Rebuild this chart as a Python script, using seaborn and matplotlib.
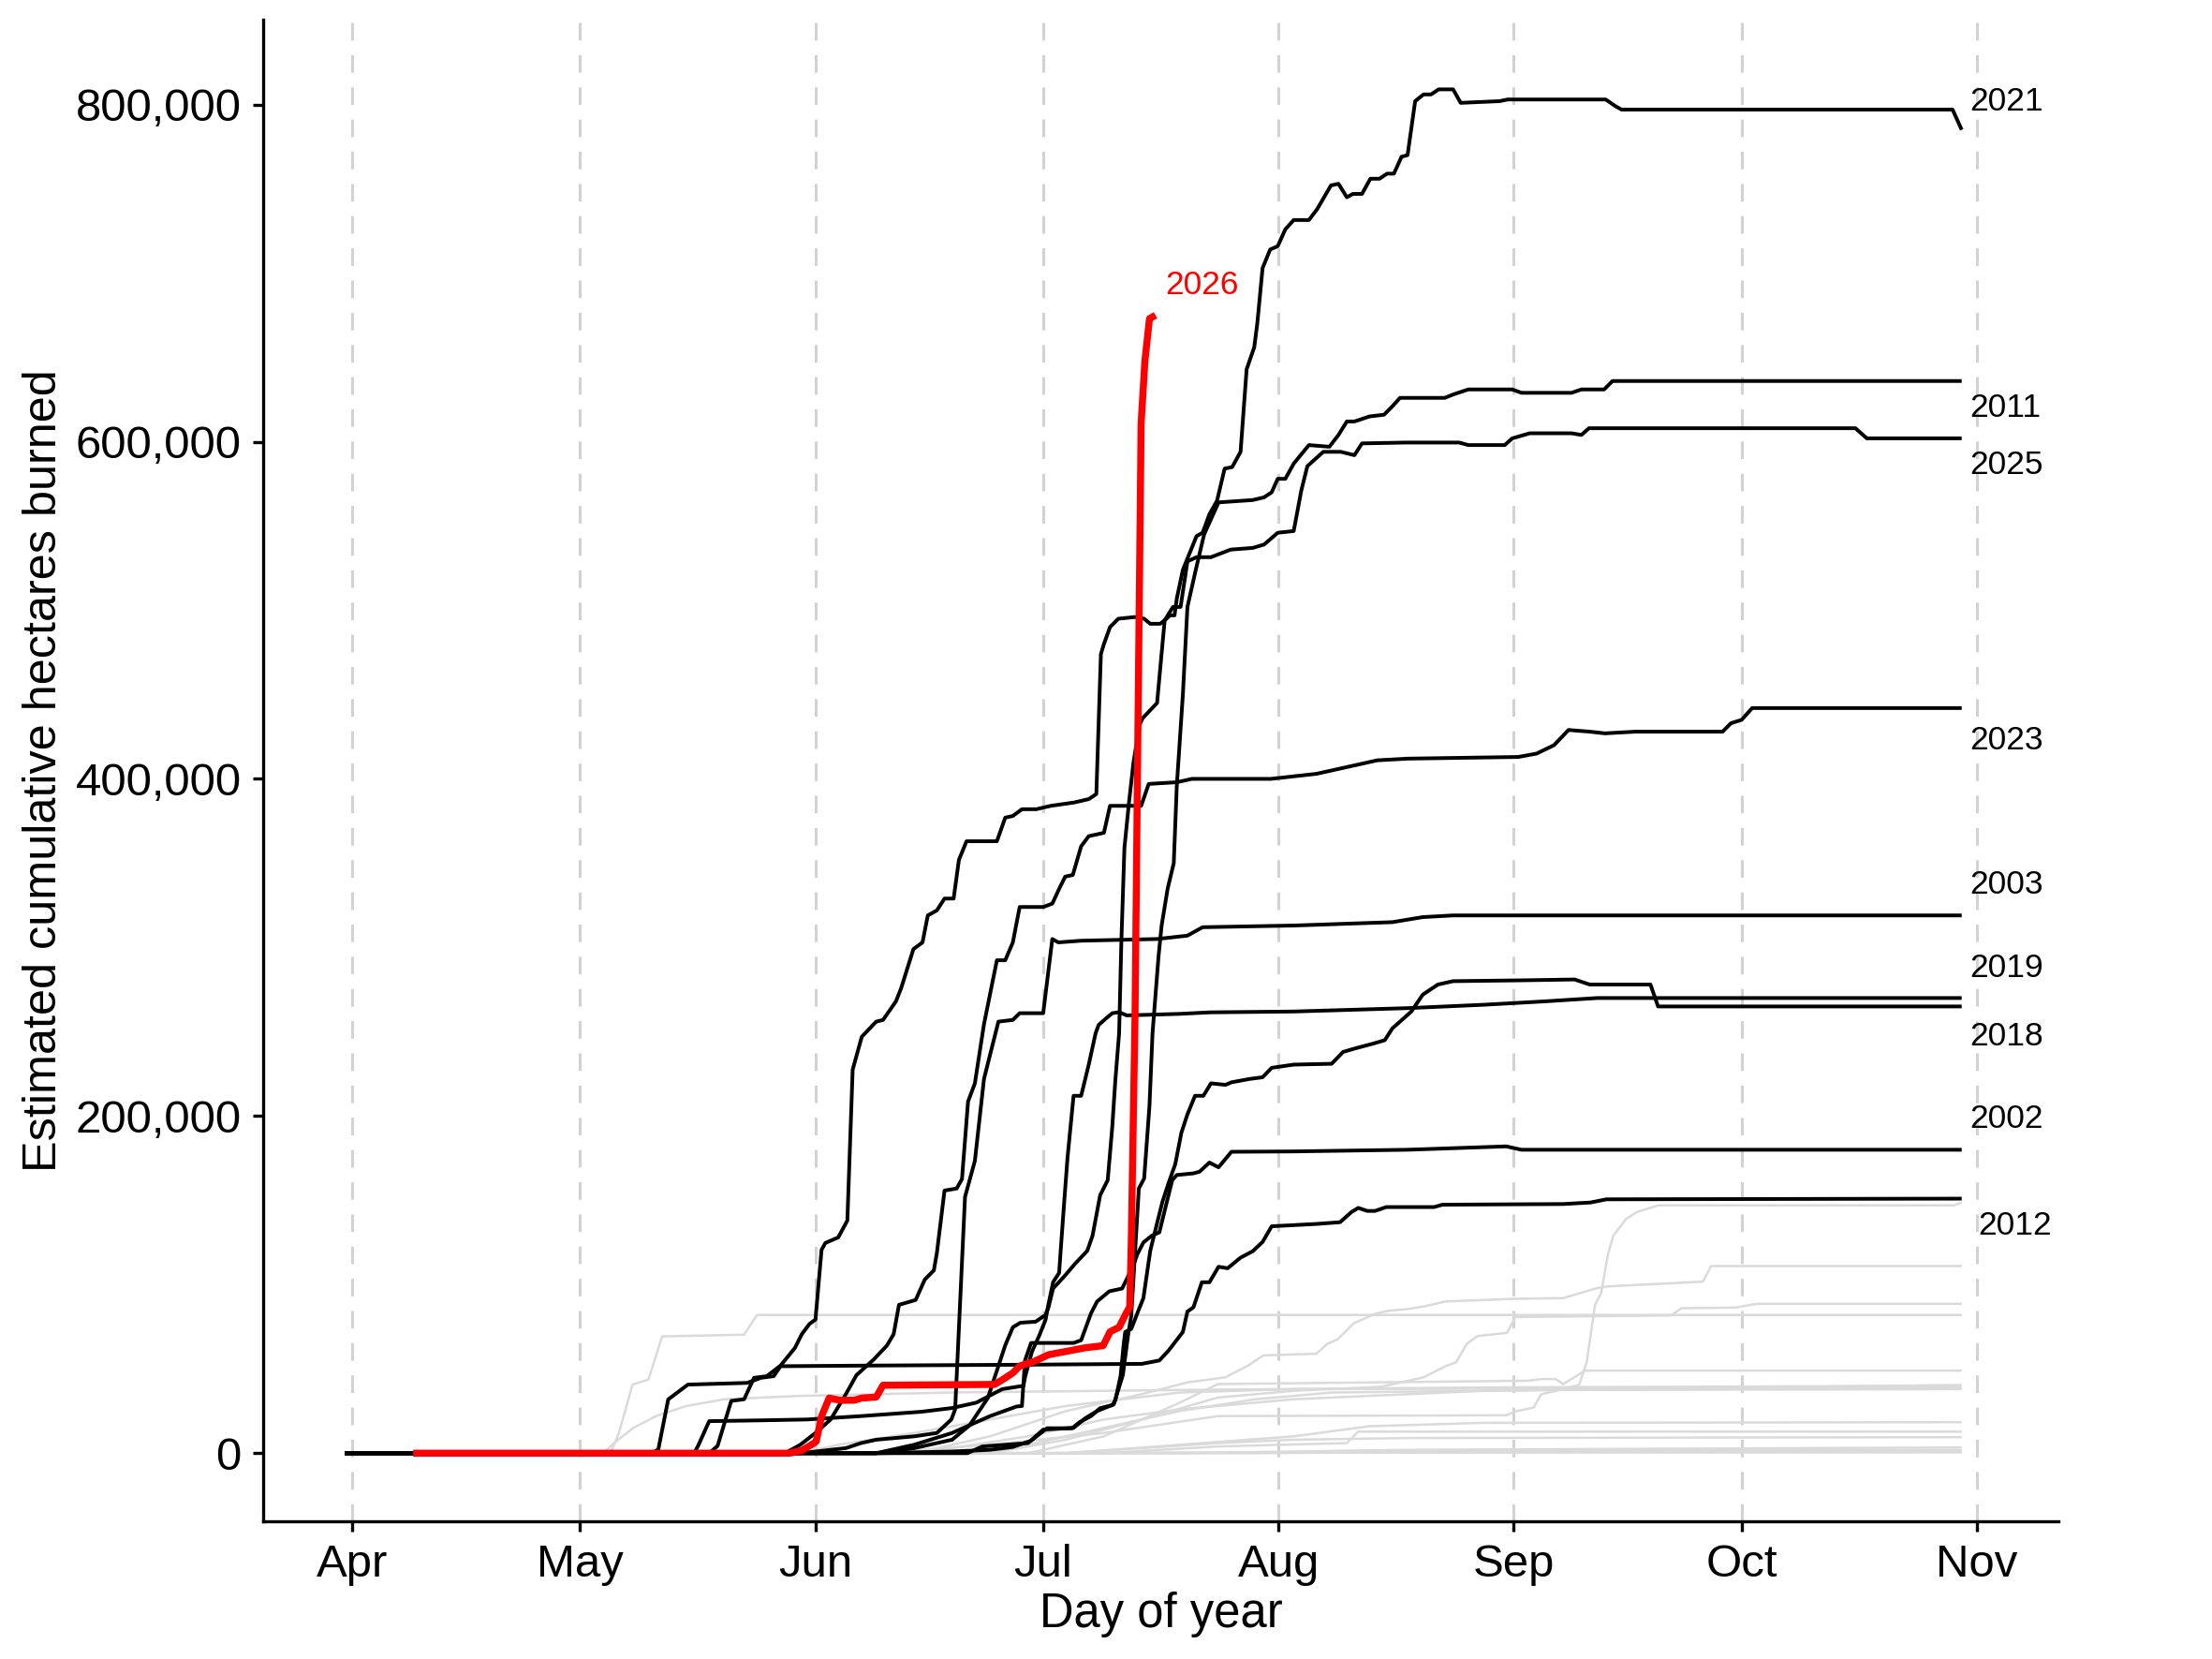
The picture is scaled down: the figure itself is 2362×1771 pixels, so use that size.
import numpy as np
import pandas as pd
import matplotlib
matplotlib.use("Agg")
import matplotlib.pyplot as plt
from matplotlib.ticker import FuncFormatter
import seaborn as sns

# ---------------- data (day of year, thousand hectares) ----------------
month_days = [91, 121, 152, 182, 213, 244, 274, 305]
month_labels = ["Apr", "May", "Jun", "Jul", "Aug", "Sep", "Oct", "Nov"]
y_ticks = [0, 200000, 400000, 600000, 800000]

day_2026 = [99, 148.6, 150.2, 151.7, 152.1, 152.8, 153.8, 155.2, 157.1, 158.1, 160, 160.9, 175.6, 176.6, 178,
            178.9, 180.8, 182.7, 187.5, 189.9, 190.8, 192, 192.9, 193.4, 193.6, 194.1, 194.4, 194.9, 195.4, 196, 196.8]
val_2026 = [0, 0, 1.6, 5.7, 7, 21.9, 32.7, 31.4, 31.4, 32.7, 33.3, 40.3, 40.8, 43.5, 47.6,
            51.7, 54.4, 58.4, 62.5, 63.8, 72, 74.7, 82.8, 86.8, 124.7, 260, 395, 611, 648, 673, 675]

day_2021 = [90, 160, 165, 170, 172.3, 174.7, 176.1, 177, 178, 179, 181, 182.3, 182.7, 183.3, 184.8, 186.2, 187.8,
            188.5, 189.5, 190.5, 191.1, 191.5, 192, 192.3, 192.7, 193.3, 193.9, 194.7, 195.1, 197, 198, 198.7,
            199.3, 199.6, 200.4, 202.2, 203, 203.9, 204.9, 205.9, 206.9, 208, 208.8, 209.8, 210.2, 210.9, 211.9,
            212.9, 213.9, 215, 217, 218.1, 219.9, 220.9, 222, 222.8, 224, 225.1, 226.3, 227.3, 228.2, 229.2, 230,
            231, 232.1, 233.1, 234.1, 236, 237, 242.1, 243.2, 256.1, 257.4, 258.2, 301.8, 303]
val_2021 = [0, 0, 3, 8, 16.5, 32.7, 51.7, 64, 74.7, 77.4, 78, 82, 86.6, 97.7, 105, 112.4, 120,
            129, 153, 162, 193.6, 221, 249, 304, 359, 386, 410, 432, 436, 445, 494, 497,
            497, 507, 524, 544, 546, 557, 565, 584, 585, 594, 643, 656, 670, 703, 714,
            716, 726, 731.5, 731.5, 738, 752, 753, 745, 747, 747, 756, 756, 759, 759, 769, 770,
            802, 806, 806, 809, 809, 801, 802, 803, 803, 799, 797, 797, 785]

day_2011 = [90, 172, 174, 180, 182, 186, 187.5, 189.1, 191.3, 192.5, 193.2, 193.6, 194.6, 195.3, 196, 196.4,
            197.2, 197.6, 198.4, 199.2, 199.6, 200.4, 201, 202.1, 203.2, 205.1, 209.6, 211.1, 212.1, 212.9,
            213.9, 215, 217, 219.7, 220.9, 222, 223, 225, 226.9, 228, 229, 234.9, 236, 238, 243.8, 245,
            251.6, 252.9, 255.9, 257, 303]
val_2011 = [0, 0, 4, 6, 14, 15, 20.6, 25, 29, 46.5, 70.6, 81.5, 157, 163, 206, 249,
            295, 313, 335, 350, 396, 450, 502, 524, 545, 564, 565.4, 567, 570, 578,
            578, 587, 598, 597, 604, 612, 612, 615, 616, 621, 626, 626, 628, 631, 631, 629,
            629, 631, 631, 636, 636]

day_2025 = [90, 138, 139.1, 140.9, 142.6, 143.9, 145.6, 147.4, 149.3, 150.2, 151.2, 152, 152.8, 153.3, 155,
            156.2, 156.9, 158.1, 160, 160.9, 162.6, 163.3, 164.9, 166.1, 166.8, 168, 169, 170.2, 170.9, 171.9,
            175.9, 177, 178, 179.2, 181.1, 183, 186.1, 188, 189, 189.6, 190, 190.8, 191.9, 194.1, 195.3, 196.1,
            197.4, 198, 199.1, 200.1, 201, 202.2, 204.1, 206.7, 209.6, 211.1, 212.9, 215, 216, 216.8, 218.9,
            221.2, 223, 224, 229.8, 236.8, 238, 242.8, 243.8, 246.1, 251.6, 252.9, 253.9, 289, 290.5, 303]
val_2025 = [0, 0, 4.3, 31, 32, 44.7, 45.7, 52, 62.5, 70.6, 76.6, 79.3, 120.6, 124.7, 128,
            138, 227.5, 247, 256, 257, 268, 276, 299, 303, 319, 322, 329, 329, 352, 363,
            363, 377, 378, 382, 382, 384, 386, 388, 391, 474, 480, 490, 495, 496, 495, 492,
            492, 494, 502, 502, 529, 531.5, 531.5, 536, 537, 539, 546, 547, 571, 585.5, 594,
            594, 592, 599, 599.5, 599.5, 598, 598, 602, 605, 605, 604, 608, 608, 602, 602]

day_2023 = [90, 148, 150, 152, 154, 156, 157.4, 159.7, 161.4, 162.3, 163, 165.2, 166.4, 167.6, 168, 169,
            170.6, 171.3, 172.1, 173, 174.2, 175.9, 177, 178, 178.9, 182, 183.2, 184.2, 184.9, 185.9, 187,
            188, 190, 190.8, 194.9, 195.9, 199.6, 201.6, 212, 218, 223, 226, 230, 244.6, 247, 249.3, 251.2,
            254, 256, 260, 271.5, 272.6, 274, 275.4, 303]
val_2023 = [0, 0, 5, 12, 20, 35, 46.3, 55.7, 63.8, 70.6, 88, 90.9, 103, 108.5, 119, 155.8,
            157, 162.6, 208.6, 219.4, 254.5, 292.4, 292.4, 303, 324, 324, 326, 335.7, 342, 343, 360,
            366, 368, 384, 384, 397, 398, 400, 400, 403, 408, 411, 412, 413, 415, 420, 429,
            428, 427, 428, 428, 433, 435, 442, 442]

day_2003 = [90, 150, 156, 158, 160, 165, 168, 169.9, 170.4, 171.7, 173, 174.2, 176.1, 178, 178.9, 182,
            183.2, 184, 187, 197, 201, 203, 215, 228, 232, 236, 303]
val_2003 = [0, 0, 3, 6, 8, 10, 12, 20, 26, 152, 173.4, 222, 256, 257, 261, 261,
            305, 303, 304, 305, 307, 312, 313, 315, 318, 319, 319]

day_2019 = [90, 136, 136.5, 138, 145, 150.9, 158, 166, 170, 173.2, 176.6, 179.4, 179.6, 180.5, 181.5, 182.3,
            182.7, 183.3, 184.1, 184.3, 184.8, 185.2, 185.6, 186, 187, 188, 188.9, 189.3, 190.3, 191.1, 192,
            193, 200, 204, 215, 230, 240, 248, 255, 303]
val_2019 = [0, 0, 4, 19, 19.5, 20, 22, 24.6, 26.8, 30, 38, 40, 45, 60, 70, 79,
            88.5, 101.4, 107, 120, 151, 175, 193.6, 212, 212, 230.5, 249, 254, 258, 261, 261.6,
            259.7, 260.6, 261.5, 262, 264, 266, 268, 270, 270]

day_2018 = [90, 160, 170, 175, 178, 180.4, 181.7, 182.5, 185.8, 186.8, 188.3, 189.5, 191.1, 191.5, 192.2,
            192.6, 192.8, 193.6, 194.4, 195.2, 196.1, 196.9, 197.7, 198.5, 199.4, 200.2, 201, 202, 203.1,
            204.1, 206, 206.8, 209.2, 210.9, 212.1, 215, 220, 221.5, 223, 225.5, 227, 228, 229.5, 230.5,
            232, 234, 236, 245, 252, 254, 262, 263, 303]
val_2018 = [0, 0, 1, 2, 3.7, 7.4, 12, 14.8, 14.8, 18.4, 22, 26.7, 28.5, 31.3, 46,
            64.5, 71.9, 73.7, 83, 92, 120, 134.6, 149, 160, 171.5, 190, 201, 212, 212,
            219.4, 218.5, 220, 222, 223, 228.6, 230.5, 231, 238, 240, 243, 245, 252, 258, 262,
            272, 278, 280, 280.5, 281, 278, 278, 265, 265]

day_2002 = [90, 160, 165, 170, 175, 178.5, 179.2, 179.6, 180.4, 186, 187, 188.3, 189.1, 190.7, 192.4, 193.8,
            194.4, 195.2, 196.3, 197.3, 198.1, 199, 199.6, 201.8, 202.6, 203.9, 205.1, 206.8, 215, 230, 243,
            245, 303]
val_2002 = [0, 0, 5, 12, 22, 27.7, 28, 55, 65.4, 65.4, 67, 83, 90, 96, 97.7, 110.6,
            118, 125, 129, 131, 145.6, 162, 165, 166, 167, 172.4, 169.6, 178.8, 179, 180, 182,
            180, 180]

day_2012 = [90, 130.5, 131.3, 132.6, 135.2, 143, 144.8, 146.5, 147.4, 160, 180, 195, 197.3, 198.5, 200.4,
            201, 201.8, 202.9, 203.9, 205.1, 206.3, 208, 209.6, 210.9, 212.1, 218, 221.1, 222.6, 223.5, 224.7,
            225.7, 227.2, 233.5, 234.6, 250.5, 254.1, 256.2, 303]
val_2012 = [0, 0, 2.3, 31.9, 40.7, 41.7, 44.7, 45.7, 51.6, 52, 52.5, 53, 55, 60.8, 71.9,
            84, 86.6, 101.4, 101.4, 110.6, 109.7, 116, 119.8, 125.3, 134.6, 136, 137, 143, 145.5, 143.7,
            143.7, 146, 146, 147.4, 147.8, 148.7, 150.6, 151]

# other years (background, grey)
day_bg01 = [90, 125, 126.1, 127.9, 130, 131.8, 142.6, 144.3, 303]
val_bg01 = [0, 0, 12, 40.7, 43.7, 69.3, 70.3, 82, 82]
day_bg02 = [90, 124, 126, 128, 131, 135, 140, 150, 170, 200, 240, 303]
val_bg02 = [0, 0, 8, 15, 22, 28, 32, 34, 36, 37.5, 39, 40]
day_bg03 = [90, 150, 155, 165, 175, 185, 200, 215, 303]
val_bg03 = [0, 0, 5, 12, 20, 28, 36, 38, 39]
day_bg04 = [90, 170, 180, 190, 200, 210, 220, 250, 303]
val_bg04 = [0, 0, 5, 15, 25, 32, 36, 37.5, 38]
day_bg05 = [90, 160, 175, 190, 205, 243, 244.4, 246.6, 247.6, 250.5, 252.6, 253.6, 254.7, 255.5, 256.4,
            257.1, 258.8, 260.2, 263, 302, 303]
val_bg05 = [0, 0, 5, 12, 22, 22.5, 25, 27, 35, 38, 40.5, 54, 88, 95, 118,
            129, 139, 143, 147, 147, 148.7]
day_bg06 = [90, 165, 175, 185, 195, 201, 206, 209, 211, 218, 219.4, 220.8, 222.9, 225.7, 227.5, 230, 232.1,
            235, 244.2, 250.5, 254.8, 256.5, 263.3, 268.9, 270, 303]
val_bg06 = [0, 0, 10, 25, 35, 42, 45, 52, 58, 59, 64.8, 67.6, 77, 82.6, 84.5, 85.5, 87,
            90, 91.6, 92, 97.7, 99, 100.5, 101.8, 111, 111]
day_bg07 = [90, 175, 185, 195, 205, 215, 226.5, 232.1, 235, 236.4, 237.8, 239.2, 243.1, 244.2, 264.7, 266.1,
            273.2, 276, 303]
val_bg07 = [0, 0, 8, 20, 33, 37, 39.4, 45, 51.6, 54, 64.8, 69.5, 71.4, 80.8, 81.7, 86,
            86.4, 88.6, 88.6]
day_bg08 = [90, 180, 190, 200, 205, 245.9, 247.7, 249.5, 250.5, 253.4, 303]
val_bg08 = [0, 0, 10, 30, 41, 43, 44, 44, 41, 49, 49]
day_bg09 = [90, 185, 200, 215, 225, 240, 303]
val_bg09 = [0, 0, 5, 10, 16, 18, 18.4]
day_bg10 = [90, 190, 205, 222, 223.5, 303]
val_bg10 = [0, 0, 4, 6, 12.8, 12.8]
day_bg11 = [90, 200, 230, 303]
val_bg11 = [0, 0, 2, 3.4]
day_bg12 = [90, 210, 250, 303]
val_bg12 = [0, 0, 1.5, 1.9]
day_bg13 = [90, 303]
val_bg13 = [0, 0.5]
day_bg14 = [90, 180, 250, 303]
val_bg14 = [0, 0, 1, 1]
day_bg15 = [90, 185, 195, 205, 215, 230, 303]
val_bg15 = [0, 0, 3, 6, 8, 9, 9.5]
day_bg16 = [90, 160, 170, 180, 190, 200, 215, 240, 303]
val_bg16 = [0, 0, 3, 10, 20, 26, 32, 37, 40.5]

highlight = {
    "2021": (day_2021, val_2021), "2011": (day_2011, val_2011), "2025": (day_2025, val_2025),
    "2023": (day_2023, val_2023), "2003": (day_2003, val_2003), "2019": (day_2019, val_2019),
    "2018": (day_2018, val_2018), "2002": (day_2002, val_2002), "2012": (day_2012, val_2012),
}
background = {
    "bg01": (day_bg01, val_bg01), "bg02": (day_bg02, val_bg02), "bg03": (day_bg03, val_bg03),
    "bg04": (day_bg04, val_bg04), "bg05": (day_bg05, val_bg05), "bg06": (day_bg06, val_bg06),
    "bg07": (day_bg07, val_bg07), "bg08": (day_bg08, val_bg08), "bg09": (day_bg09, val_bg09),
    "bg10": (day_bg10, val_bg10), "bg11": (day_bg11, val_bg11), "bg12": (day_bg12, val_bg12),
    "bg13": (day_bg13, val_bg13), "bg14": (day_bg14, val_bg14), "bg15": (day_bg15, val_bg15),
    "bg16": (day_bg16, val_bg16),
}
current = {"2026": (day_2026, val_2026)}

# label positions (day, hectares) for year labels
label_years = ["2021", "2011", "2025", "2023", "2003", "2019", "2018", "2002", "2012"]
label_day = [304.1, 304.1, 304.1, 304.1, 304.1, 304.1, 304.1, 304.1, 305.1]
label_val = [802000, 620000, 586000, 422600, 337000, 288000, 247000, 198000, 134700]


def to_long(d):
    rows = []
    for name, (days, vals) in d.items():
        for i, (x, v) in enumerate(zip(days, vals)):
            rows.append({"series": name, "order": i, "day": x, "ha": v * 1000.0})
    return pd.DataFrame(rows)


df_bg = to_long(background)
df_hi = to_long(highlight)
df_cur = to_long(current)

# ---------------- style ----------------
sns.set_theme(style="white")
plt.rcParams['font.family'] = ['Liberation Sans', 'DejaVu Sans']
plt.rcParams['lines.solid_capstyle'] = 'butt'
plt.rcParams['lines.solid_joinstyle'] = 'round'

fig = plt.figure(figsize=(2362 / 300, 1771 / 300), dpi=300)
ax = fig.add_axes([0.119, 0.0829, 0.9306 - 0.119, 0.9883 - 0.0829])

for d in month_days:
    ax.axvline(d, color="#d2d2d2", lw=0.75, ls=(0, (6, 5)), zorder=0)

sns.lineplot(data=df_bg, x="day", y="ha", units="series", estimator=None, sort=False,
             color="#dadada", lw=0.6, ax=ax, legend=False, zorder=1)
sns.lineplot(data=df_hi, x="day", y="ha", units="series", estimator=None, sort=False,
             color="black", lw=0.95, ax=ax, legend=False, zorder=2)
sns.lineplot(data=df_cur, x="day", y="ha", units="series", estimator=None, sort=False,
             color="red", lw=1.8, ax=ax, legend=False, zorder=3)

for yr, xd, yv in zip(label_years, label_day, label_val):
    ax.text(xd, yv, yr, fontsize=8.5, ha="left", va="center", color="black", clip_on=False)
ax.text(198.1, 693000, "2026", fontsize=8.5, ha="left", va="center", color="red", clip_on=False)

ax.set_xlim(79.25, 315.75)
ax.set_ylim(-40500, 850500)
ax.set_xticks(month_days)
ax.set_xticklabels(month_labels)
ax.set_yticks(y_ticks)
ax.yaxis.set_major_formatter(FuncFormatter(lambda v, p: f"{v:,.0f}"))

for s in ["top", "right"]:
    ax.spines[s].set_visible(False)
for s in ["left", "bottom"]:
    ax.spines[s].set_color("black")
    ax.spines[s].set_linewidth(0.8)
ax.tick_params(axis="both", which="major", direction="out", length=2.6, width=0.8, color="black",
               labelsize=11.8, labelcolor="black", pad=3, bottom=True, left=True)

ax.set_xlabel("Day of year", fontsize=12.2, color="black", labelpad=1.5)
ax.set_ylabel("Estimated cumulative hectares burned", fontsize=12.1, color="black", labelpad=2.5)
ax.grid(False)

fig.savefig("out.png", dpi=300, facecolor="white")
